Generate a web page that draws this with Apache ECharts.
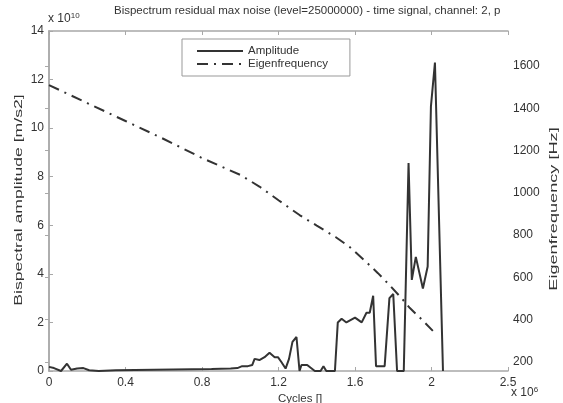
<!DOCTYPE html>
<html>
<head>
<meta charset="utf-8">
<script src="https://cdn.jsdelivr.net/npm/echarts@6/dist/echarts.min.js"></script>
<style>
  html, body { margin: 0; padding: 0; background: #fff; }
  #chart { width: 563px; height: 403px; }
</style>
</head>
<body>
<div id="chart"></div>
<script>
// cycles (x 10^6) and bispectral amplitude (x 10^10)
var ampCycles = [0, 0.026, 0.063, 0.094, 0.115, 0.147, 0.18, 0.21, 0.26, 0.35, 0.45, 0.55, 0.65, 0.75, 0.85, 0.95, 0.985,
  1.01, 1.04, 1.063, 1.075, 1.1, 1.127, 1.153, 1.18, 1.197, 1.215, 1.237, 1.255, 1.273, 1.294, 1.31, 1.32, 1.35, 1.39,
  1.42, 1.435, 1.45, 1.495, 1.51, 1.53, 1.555, 1.6, 1.635, 1.66, 1.677, 1.695, 1.71, 1.755, 1.78, 1.8, 1.82, 1.855,
  1.88, 1.897, 1.918, 1.955, 1.98, 1.997, 2.018, 2.06];
var ampValues = [0.17, 0.12, 0.0, 0.3, 0.05, 0.1, 0.12, 0.03, 0.0, 0.03, 0.04, 0.05, 0.06, 0.07, 0.08, 0.1, 0.12,
  0.2, 0.2, 0.25, 0.5, 0.45, 0.57, 0.75, 0.57, 0.57, 0.37, 0.1, 0.5, 1.2, 1.4, 0.0, 0.25, 0.25, 0.0,
  0.0, 0.2, 0.0, 0.0, 2.0, 2.15, 2.0, 2.2, 2.0, 2.4, 2.4, 3.1, 0.2, 0.2, 3.0, 3.17, 0.0, 0.0,
  8.56, 3.75, 4.7, 3.4, 4.3, 10.9, 12.7, 0.0];

// eigenfrequency [Hz]
var eigCycles = [0, 0.2, 0.4, 0.6, 0.8, 1.0, 1.1, 1.2, 1.31, 1.4, 1.5, 1.572, 1.65, 1.72, 1.78, 1.84, 1.887, 1.95, 2.007];
var eigValues = [1510, 1425, 1340, 1255, 1165, 1085, 1030, 965, 895, 845, 790, 744, 680, 620, 564, 505, 455, 400, 347];

var xTickLabels = ['0', '0.4', '0.8', '1.2', '1.6', '2', '2.5'];
var freqTicks = [200, 400, 600, 800, 1000, 1200, 1400, 1600];

function zip(a, b) {
  return a.map(function (v, i) { return [v, b[i]]; });
}

var axisGray = '#a8a8a8';
var txt = '#333';
var font = 'Liberation Sans, Arial, sans-serif';

var chart = echarts.init(document.getElementById('chart'));
chart.setOption({
  backgroundColor: '#fff',
  animation: false,
  textStyle: { fontFamily: font },
  title: {
    text: 'Bispectrum residual max noise (level=25000000) - time signal, channel: 2, p',
    left: 114,
    top: 5,
    padding: 0,
    textStyle: { fontSize: 11.5, fontWeight: 'normal', color: txt, fontFamily: font }
  },
  legend: {
    orient: 'vertical',
    left: 182,
    top: 39,
    padding: [6, 22, 6, 14],
    itemGap: 1,
    itemWidth: 46,
    itemHeight: 12,
    borderColor: '#999',
    borderWidth: 1,
    backgroundColor: '#fff',
    itemStyle: { opacity: 0 },
    textStyle: { fontSize: 11.5, color: txt, fontFamily: font },
    data: ['Amplitude', 'Eigenfrequency']
  },
  grid: { left: 49, right: 55, top: 31, bottom: 32, containLabel: false, outerBoundsMode: 'none' },
  xAxis: [{
    type: 'value',
    min: 0,
    max: 2.4,
    interval: 0.4,
    axisLine: { show: true, lineStyle: { color: axisGray, width: 1.5 } },
    axisTick: { show: true, inside: true, length: 4, lineStyle: { color: axisGray } },
    axisLabel: {
      margin: 6, color: txt, fontSize: 12,
      formatter: function (v) { return xTickLabels[Math.round(v / 0.4)]; }
    },
    splitLine: { show: false }
  }, {
    type: 'value',
    position: 'top',
    min: 0,
    max: 2.4,
    interval: 0.4,
    axisLine: { show: true, lineStyle: { color: axisGray, width: 1.5 } },
    axisTick: { show: true, inside: true, length: 4, lineStyle: { color: axisGray } },
    axisLabel: { show: false },
    splitLine: { show: false }
  }],
  yAxis: [{
    type: 'value',
    min: 0,
    max: 14,
    interval: 2,
    axisLine: { show: true, lineStyle: { color: axisGray, width: 1.5 } },
    axisTick: { show: true, inside: true, length: 4, lineStyle: { color: axisGray } },
    axisLabel: { margin: 5, color: txt, fontSize: 12 },
    splitLine: { show: false }
  }, {
    type: 'value',
    position: 'right',
    min: 157,
    max: 1766,
    axisLine: { show: true, lineStyle: { color: axisGray, width: 1.5 } },
    axisTick: { show: true, inside: true, length: 4, customValues: freqTicks, lineStyle: { color: axisGray } },
    axisLabel: {
      margin: 5, color: txt, fontSize: 12, customValues: freqTicks,
      formatter: function (v) { return String(v); }
    },
    splitLine: { show: false }
  }],
  graphic: [{
    type: 'text',
    left: 48,
    top: 12,
    style: {
      text: 'x 10{sup|10}',
      fill: txt,
      font: '12px ' + font,
      rich: { sup: { fontSize: 8, verticalAlign: 'top', padding: [0, 0, 6, 0] } }
    }
  }, {
    type: 'text',
    left: 511,
    top: 386,
    style: {
      text: 'x 10{sup|6}',
      fill: txt,
      font: '12px ' + font,
      rich: { sup: { fontSize: 8, verticalAlign: 'top', padding: [0, 0, 6, 0] } }
    }
  }, {
    type: 'text',
    left: 278,
    top: 393,
    style: { text: 'Cycles []', fill: txt, font: '11.5px ' + font }
  }, {
    type: 'text',
    x: 19,
    y: 200,
    rotation: Math.PI / 2,
    scaleX: 1.6,
    style: {
      text: 'Bispectral amplitude [m/s2]', fill: txt, font: '11px ' + font,
      align: 'center', verticalAlign: 'middle'
    }
  }, {
    type: 'text',
    x: 554,
    y: 209,
    rotation: Math.PI / 2,
    scaleX: 1.65,
    style: {
      text: 'Eigenfrequency [Hz]', fill: txt, font: '11px ' + font,
      align: 'center', verticalAlign: 'middle'
    }
  }],
  series: [{
    name: 'Amplitude',
    type: 'line',
    xAxisIndex: 0,
    yAxisIndex: 0,
    symbol: 'none',
    data: zip(ampCycles, ampValues),
    lineStyle: { color: '#333', width: 2 },
    itemStyle: { color: '#333' },
    z: 3
  }, {
    name: 'Eigenfrequency',
    type: 'line',
    xAxisIndex: 0,
    yAxisIndex: 1,
    symbol: 'none',
    data: zip(eigCycles, eigValues),
    lineStyle: { color: '#333', width: 2, type: [11, 6, 2, 6] },
    itemStyle: { color: '#333' },
    z: 2
  }]
});
</script>
</body>
</html>
